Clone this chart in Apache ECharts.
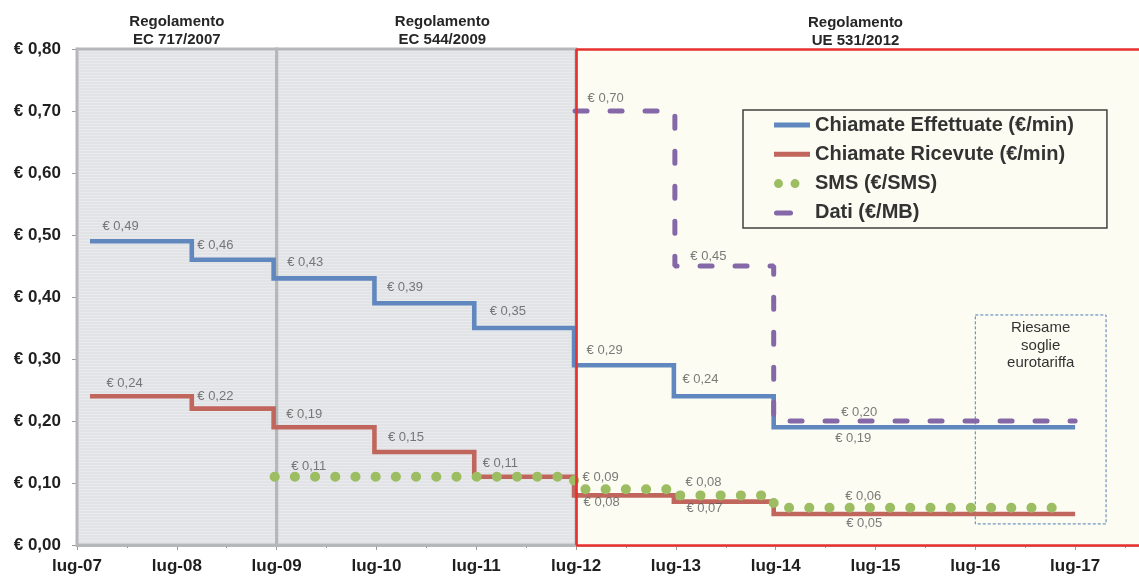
<!DOCTYPE html>
<html>
<head>
<meta charset="utf-8">
<script src="https://cdn.jsdelivr.net/npm/echarts@6/dist/echarts.min.js"></script>
<style>
  html, body { margin: 0; padding: 0; background: #ffffff; }
  #chart { width: 1139px; height: 576px; }
</style>
</head>
<body>
<div id="chart"></div>
<script>
// Time axis: one tick per July, values are years after July 2007
const yearLabels = ['lug-07', 'lug-08', 'lug-09', 'lug-10', 'lug-11', 'lug-12', 'lug-13', 'lug-14', 'lug-15', 'lug-16', 'lug-17'];
const yearTicks = [0, 1, 2, 3, 4, 5, 6, 7, 8, 9, 10];
const halfYearTicks = [0.5, 1.5, 2.5, 3.5, 4.5, 5.5, 6.5, 7.5, 8.5, 9.5, 10.5];
const axisEnd = 10.64;

// Voice caps: start of each step and its level
const callStarts = [0.13, 1.15, 1.97, 2.98, 3.98, 4.98, 5.98, 6.98];
const callEnd = 10;
const madeValues = [0.49, 0.46, 0.43, 0.39, 0.35, 0.29, 0.24, 0.19];
const receivedValues = [0.24, 0.22, 0.19, 0.15, 0.11, 0.08, 0.07, 0.05];

// SMS caps
const smsStarts = [1.98, 4.98, 5.98, 6.98];
const smsEnd = 9.84;
const smsValues = [0.11, 0.09, 0.08, 0.06];

// Data caps
const dataStarts = [4.99, 5.99, 6.98];
const dataEnd = 10;
const dataValues = [0.70, 0.45, 0.20];

// Regulation periods (in years after July 2007)
const periodNames = ['Regolamento\nEC 717/2007', 'Regolamento\nEC 544/2009', 'Regolamento\nUE 531/2012'];
const periodBounds = [[0, 2], [2, 5], [5, axisEnd]];

// Review note box: [x, y] corners
const reviewText = 'Riesame\nsoglie\neurotariffa';
const reviewCorners = [[9.0, 0.371], [10.31, 0.034]];

const seriesNames = ['Chiamate Effettuate (€/min)', 'Chiamate Ricevute (€/min)', 'SMS (€/SMS)', 'Dati (€/MB)'];

// ---- presentation ----
const FONT = '"Liberation Sans", Arial, sans-serif';
const BLUE = '#6088be';
const RED = '#c1665d';
const GREEN = '#9dbd62';
const PURPLE = '#8468a8';
const CREAM = '#fcfcf3';
const FRAME_GREY = '#b6b7ba';
const FRAME_RED = '#e8312e';

// pixel offsets of the value labels from the start of each step
const madeLabelShift = [[13, -14], [6, -14], [14, -15], [13, -15], [16, -16], [13, -14], [9, -16], [62, 12]];
const receivedLabelShift = [[17, -12], [6, -12], [13, -12], [14, -14], [9, -13], [10, 8], [13, 7], [73, 10]];
const smsLabelShift = [[17, -10], [9, -11], [12, -12], [72, -11]];
const dataLabelShift = [[13, -12], [16, -9], [68, -8]];
const periodLabelShift = [[0, 4], [16, 4], [-2, 4]];

const euro = v => '€ ' + v.toFixed(2).replace('.', ',');

function stepPoints(starts, values, end) {
  const pts = starts.map((s, i) => [s, values[i]]);
  pts.push([end, values[values.length - 1]]);
  return pts;
}

function labelPoints(starts, values, shifts) {
  return starts.map((s, i) => ({
    value: [s, values[i]],
    label: { position: shifts[i] }
  }));
}

function stripes() {
  const c = document.createElement('canvas');
  c.width = 8; c.height = 6;
  const g = c.getContext('2d');
  g.fillStyle = '#e2e3e6';
  g.fillRect(0, 0, 8, 6);
  g.fillStyle = '#e9eaec';
  g.fillRect(0, 0, 8, 1);
  g.fillRect(0, 3, 8, 1);
  return c;
}
const greyFill = { image: stripes(), repeat: 'repeat' };

const ICON_LINE = 'path://M0,0M36,10M0,2.5L36,2.5L36,7.5L0,7.5Z';
const ICON_DOTS = 'path://M0,0M36,10M0,5A4.5,4.5,0,1,0,9,5A4.5,4.5,0,1,0,0,5ZM16.5,5A4.5,4.5,0,1,0,25.5,5A4.5,4.5,0,1,0,16.5,5Z';
const ICON_DASH = 'path://M0,0M36,10M2.5,2.5L16.5,2.5A2.5,2.5,0,0,1,16.5,7.5L2.5,7.5A2.5,2.5,0,0,1,2.5,2.5Z';

const chart = echarts.init(document.getElementById('chart'), null, { renderer: 'canvas' });

// period backgrounds
const fills = periodBounds.map((b, i) => [
  { coord: [b[0], 0.8], itemStyle: { color: i < 2 ? greyFill : CREAM, borderWidth: 0 } },
  { coord: [b[1], 0] }
]);

// grey frames of the first two periods, headings of all three, review box
const headerLabel = i => ({
  show: true, formatter: periodNames[i], position: 'top', distance: 3,
  offset: periodLabelShift[i],
  fontFamily: FONT, fontSize: 15, fontWeight: 'bold', color: '#262626', lineHeight: 18, align: 'center'
});
const frames = periodBounds.map((b, i) => [
  {
    coord: [b[0], 0.8],
    itemStyle: i < 2
      ? { color: 'rgba(0,0,0,0)', borderColor: FRAME_GREY, borderWidth: 3 }
      : { color: 'rgba(0,0,0,0)', borderWidth: 0 },
    label: headerLabel(i)
  },
  { coord: [b[1], 0] }
]);
frames.push([
  {
    coord: reviewCorners[0],
    itemStyle: { color: 'rgba(0,0,0,0)', borderColor: '#4f7db3', borderWidth: 1, borderType: [3, 2] },
    label: {
      show: true, formatter: reviewText, position: 'insideTop', distance: 5,
      fontFamily: FONT, fontSize: 15, color: '#333333', lineHeight: 17.5, align: 'center'
    }
  },
  { coord: reviewCorners[1] }
]);

// red outline of the current period (open on the right)
const p3 = periodBounds[2];
const redEdges = [
  [{ coord: [p3[0], 0.8] }, { coord: [p3[1], 0.8] }],
  [{ coord: [p3[0], 0.8] }, { coord: [p3[0], 0] }],
  [{ coord: [p3[0], 0] }, { coord: [p3[1], 0] }]
];

const valueLabelStyle = {
  show: true, formatter: p => euro(p.value[1]), align: 'left', verticalAlign: 'middle',
  fontFamily: FONT, fontSize: 13, color: '#595959'
};

const option = {
  animation: false,
  backgroundColor: '#ffffff',
  grid: { left: 77, right: 0, top: 49, bottom: 31, containLabel: false },
  xAxis: [
    {
      type: 'value', min: 0, max: axisEnd,
      axisLine: { show: true, lineStyle: { color: FRAME_GREY, width: 3 } },
      axisTick: { show: true, length: 5, customValues: yearTicks, lineStyle: { color: '#9a9a9a', width: 1 } },
      splitLine: { show: true, lineStyle: { color: '#a3a3a3', width: 1, type: [1, 2] } },
      axisLabel: {
        customValues: yearTicks,
        formatter: v => yearLabels[Math.round(v)] || '', margin: 13,
        fontFamily: FONT, fontSize: 17, fontWeight: 'bold', color: '#1f1f1f'
      }
    },
    {
      type: 'value', min: 0, max: axisEnd, position: 'bottom',
      axisLine: { show: false },
      axisTick: { show: true, length: 3, customValues: halfYearTicks, lineStyle: { color: '#9a9a9a', width: 1 } },
      splitLine: { show: false },
      axisLabel: { show: false }
    }
  ],
  yAxis: {
    type: 'value', min: 0, max: 0.8, interval: 0.1,
    axisLine: { show: true, lineStyle: { color: FRAME_GREY, width: 3 } },
    axisTick: { show: true, length: 5, lineStyle: { color: '#9a9a9a', width: 1 } },
    splitLine: { show: true, lineStyle: { color: '#a3a3a3', width: 1, type: [1, 2] } },
    axisLabel: {
      formatter: v => euro(v), margin: 16,
      fontFamily: FONT, fontSize: 17, fontWeight: 'bold', color: '#1f1f1f'
    }
  },
  legend: {
    orient: 'vertical', left: 743, top: 110,
    padding: [5, 33, 5, 31], itemGap: 9.3, itemWidth: 36, itemHeight: 10,
    backgroundColor: CREAM, borderColor: '#404040', borderWidth: 1.5,
    selectedMode: false,
    textStyle: { fontFamily: FONT, fontSize: 20, fontWeight: 'bold', color: '#333333', lineHeight: 20 },
    data: [
      { name: seriesNames[0], icon: ICON_LINE },
      { name: seriesNames[1], icon: ICON_LINE },
      { name: seriesNames[2], icon: ICON_DOTS },
      { name: seriesNames[3], icon: ICON_DASH }
    ]
  },
  series: [
    {
      name: 'periodi', type: 'line', data: [], z: -1, silent: true,
      markArea: { silent: true, data: fills }
    },
    {
      name: 'cornici', type: 'line', data: [], z: 1, silent: true,
      markArea: { silent: true, data: frames },
      markLine: {
        silent: true, symbol: ['none', 'none'], label: { show: false },
        lineStyle: { color: FRAME_RED, width: 2.6, type: 'solid' },
        emphasis: { disabled: true },
        data: redEdges
      }
    },
    {
      name: seriesNames[0], type: 'line', step: 'end', symbol: 'none', color: BLUE, z: 3,
      lineStyle: { color: BLUE, width: 4.6, join: 'miter' },
      data: stepPoints(callStarts, madeValues, callEnd)
    },
    {
      name: seriesNames[1], type: 'line', step: 'end', symbol: 'none', color: RED, z: 3,
      lineStyle: { color: RED, width: 4.6, join: 'miter' },
      data: stepPoints(callStarts, receivedValues, callEnd)
    },
    {
      name: seriesNames[2], type: 'line', step: 'end', symbol: 'none', color: GREEN, z: 4,
      lineStyle: { color: GREEN, width: 10, type: [0.1, 20.1], cap: 'round' },
      data: stepPoints(smsStarts, smsValues, smsEnd)
    },
    {
      name: seriesNames[3], type: 'line', step: 'end', symbol: 'none', color: PURPLE, z: 3,
      lineStyle: { color: PURPLE, width: 5, type: [12, 23], cap: 'round' },
      data: stepPoints(dataStarts, dataValues, dataEnd)
    },
    {
      name: 'etichette', type: 'scatter', symbolSize: 1, z: 6, silent: true,
      itemStyle: { color: 'rgba(0,0,0,0)' },
      label: valueLabelStyle,
      data: [].concat(
        labelPoints(callStarts, madeValues, madeLabelShift),
        labelPoints(callStarts, receivedValues, receivedLabelShift),
        labelPoints(smsStarts, smsValues, smsLabelShift),
        labelPoints(dataStarts, dataValues, dataLabelShift)
      )
    }
  ]
};

chart.setOption(option);
</script>
</body>
</html>
